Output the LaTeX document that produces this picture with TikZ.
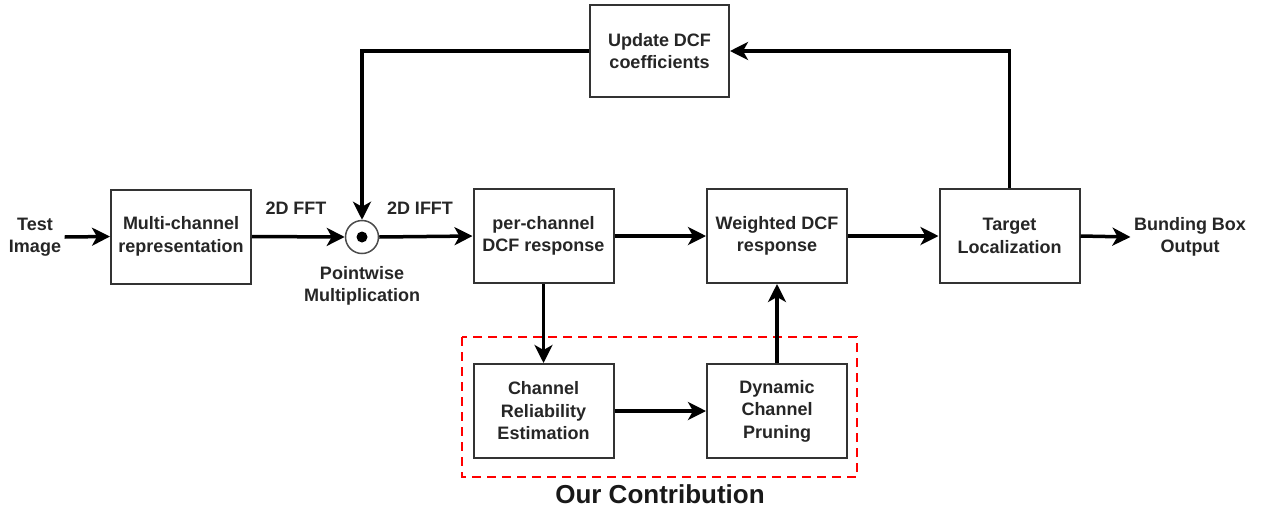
\documentclass[tikz,border=0pt]{standalone}
\usepackage{fontspec}
\setmainfont{Liberation Sans}
\usetikzlibrary{arrows.meta}
\begin{document}
\begin{tikzpicture}[x=1pt,y=-1pt,
  txt/.style={font=\fontsize{18}{22.5}\selectfont\bfseries, align=center, text=black!85},
  block/.style={txt, draw=black!80, line width=2pt, fill=white,
    minimum width=140pt, minimum height=94pt, inner sep=0pt},
  flow/.style={line width=3.5pt, -{Stealth[length=18pt, width=18pt, inset=5pt]}}]
\useasboundingbox (0,0) rectangle (1261,507);

% contribution frame
\draw[red, line width=2.5pt, dash pattern=on 9pt off 6pt] (462,337) rectangle (857,477);
\node[font=\fontsize{26}{28}\selectfont\bfseries, text=black!90] (contrib) at (660,494) {Our Contribution};

% blocks
\node[block] (multi) at (181,236.5) {Multi-channel\\representation};
\node[block] (perch) at (543.5,236) {per-channel\\DCF response};
\node[block] (wdcf) at (777,236) {Weighted DCF\\response};
\node[block] (target) at (1009.5,236) {Target\\Localization};
\node[block] (rel) at (543.5,411) {Channel\\Reliability\\Estimation};
\node[block] (prune) at (777,411) {Dynamic\\Channel\\Pruning};
\node[block, minimum width=139pt, minimum height=92pt] (update) at (659.5,51) {Update DCF\\coefficients};

% pointwise multiplication
\node[circle, draw=black!70, line width=1.5pt, fill=white, minimum size=33pt, inner sep=0pt] (mul) at (362,237) {};
\fill[black] (mul.center) circle (5.5pt);

% free labels
\node[txt] (test) at (35,237) {Test\\Image};
\node[txt] (bbox) at (1190,237) {Bunding Box\\Output};
\node[txt] (fft) at (296,208) {2D FFT};
\node[txt] (ifft) at (420,208) {2D IFFT};
\node[txt] (pw) at (362,286) {Pointwise\\Multiplication};

% main pipeline
\draw[flow] (test.east) -- (multi.west);
\draw[flow] (multi.east) -- (mul.west);
\draw[flow] (mul.east) -- (perch.west);
\draw[flow] (perch.east) -- (wdcf.west);
\draw[flow] (wdcf.east) -- (target.west);
\draw[flow] (target.east) -- (bbox.west);

% reliability branch
\draw[flow] (perch.south) -- (rel.north);
\draw[flow] (rel.east) -- (prune.west);
\draw[flow] (prune.north) -- (wdcf.south);

% update loop
\draw[flow] (target.north) |- (update.east);
\draw[flow] (update.west) -| (mul.north);
\end{tikzpicture}
\end{document}
